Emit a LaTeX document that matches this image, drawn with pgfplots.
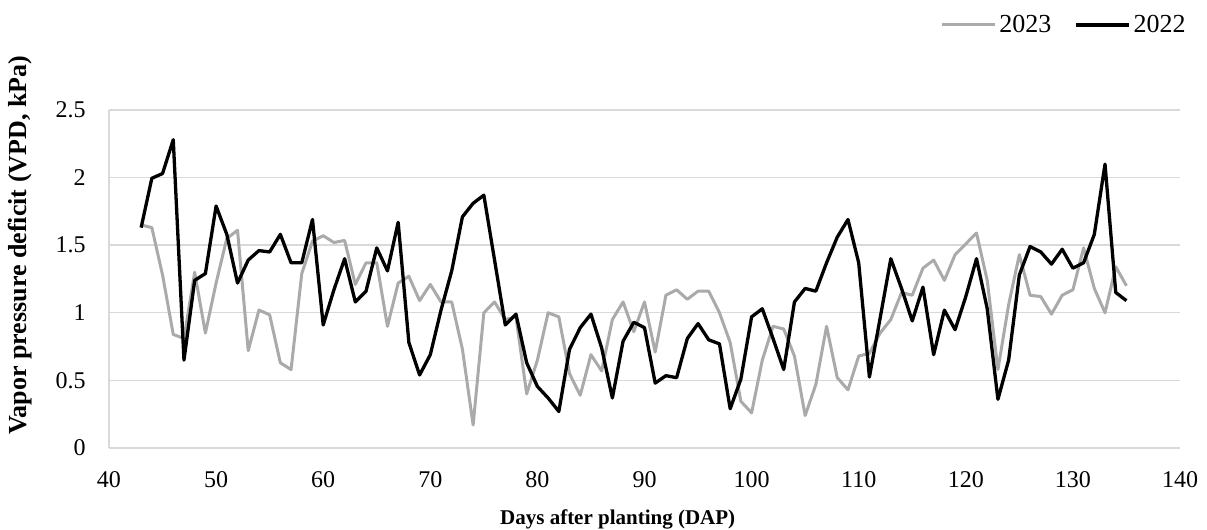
\documentclass[border=0pt]{standalone}
\usepackage{fontspec}
\setmainfont{Liberation Serif}
\usepackage{pgfplots}
\pgfplotsset{compat=1.18}
\definecolor{gridc}{RGB}{217,217,217}
\definecolor{s23}{RGB}{170,170,170}
\begin{document}
\begin{tikzpicture}
\useasboundingbox (-54.5pt,-41pt) rectangle (549pt,224pt);
\begin{axis}[
  scale only axis,
  width=535.5pt, height=169pt,
  xmin=40, xmax=140, ymin=0, ymax=2.5,
  xtick={40,50,...,140},
  ytick={0,0.5,1,1.5,2,2.5},
  axis lines=left,
  axis line style={-, draw=gridc, line width=0.7pt},
  major tick length=0pt,
  ymajorgrids,
  major grid style={draw=gridc, line width=0.7pt},
  /pgf/number format/assume math mode=true,
  tick label style={font=\fontsize{12}{14}\selectfont},
  xticklabel style={inner sep=0pt, anchor=north, yshift=-11.5pt},
  yticklabel style={inner sep=0pt, anchor=east, xshift=-11.5pt},
  xlabel={Days after planting (DAP)},
  ylabel={Vapor pressure deficit (VPD, kPa)},
  xlabel style={at={(axis description cs:0.475,-0.226)}, anchor=base, font=\bfseries\fontsize{10.5}{12}\selectfont},
  ylabel style={at={(axis description cs:-0.083,0.6)}, anchor=center, font=\bfseries\fontsize{13}{15}\selectfont},
  legend columns=2,
  legend image code/.code={\draw[#1] (0pt,0pt) -- (26.5pt,0pt);},
  legend style={at={(axis description cs:1.0084,1.2515)}, anchor=east, draw=none, fill=none,
    inner sep=0pt, font=\fontsize{13}{15}\selectfont,
    nodes={inner sep=1.5pt},
    /tikz/every even column/.append style={column sep=10pt}},
  line join=round,
]
\addplot[s23, line width=1.5pt] coordinates {
(43,1.65) (44,1.63) (45,1.28) (46,0.84) (47,0.81) (48,1.30) (49,0.85) (50,1.22)
(51,1.55) (52,1.61) (53,0.72) (54,1.02) (55,0.985) (56,0.63) (57,0.58) (58,1.29)
(59,1.53) (60,1.57) (61,1.52) (62,1.535) (63,1.21) (64,1.37) (65,1.37) (66,0.90)
(67,1.22) (68,1.27) (69,1.09) (70,1.21) (71,1.08) (72,1.08) (73,0.73) (74,0.17)
(75,1.00) (76,1.08) (77,0.95) (78,0.97) (79,0.40) (80,0.65) (81,1.00) (82,0.97)
(83,0.55) (84,0.39) (85,0.69) (86,0.57) (87,0.95) (88,1.08) (89,0.86) (90,1.08)
(91,0.71) (92,1.13) (93,1.17) (94,1.10) (95,1.16) (96,1.16) (97,1.00) (98,0.78)
(99,0.345) (100,0.26) (101,0.65) (102,0.90) (103,0.88) (104,0.68) (105,0.24) (106,0.47)
(107,0.90) (108,0.52) (109,0.43) (110,0.68) (111,0.70) (112,0.85) (113,0.95) (114,1.15)
(115,1.13) (116,1.33) (117,1.39) (118,1.24) (119,1.43) (120,1.51) (121,1.59) (122,1.24)
(123,0.58) (124,1.06) (125,1.43) (126,1.13) (127,1.12) (128,0.99) (129,1.13) (130,1.17)
(131,1.48) (132,1.18) (133,1.00) (134,1.34) (135,1.20)
};
\addlegendentry{2023}
\addplot[black, line width=1.65pt] coordinates {
(43,1.63) (44,1.995) (45,2.03) (46,2.28) (47,0.65) (48,1.24) (49,1.29) (50,1.79)
(51,1.58) (52,1.22) (53,1.39) (54,1.46) (55,1.45) (56,1.58) (57,1.37) (58,1.37)
(59,1.69) (60,0.91) (61,1.17) (62,1.40) (63,1.08) (64,1.16) (65,1.48) (66,1.31)
(67,1.67) (68,0.78) (69,0.54) (70,0.69) (71,1.02) (72,1.31) (73,1.71) (74,1.81)
(75,1.87) (76,1.39) (77,0.91) (78,0.99) (79,0.63) (80,0.455) (81,0.37) (82,0.27)
(83,0.73) (84,0.89) (85,0.99) (86,0.74) (87,0.37) (88,0.79) (89,0.93) (90,0.89)
(91,0.48) (92,0.535) (93,0.52) (94,0.81) (95,0.92) (96,0.80) (97,0.77) (98,0.29)
(99,0.51) (100,0.97) (101,1.03) (102,0.81) (103,0.58) (104,1.08) (105,1.18) (106,1.16)
(107,1.37) (108,1.56) (109,1.69) (110,1.37) (111,0.525) (112,0.96) (113,1.40) (114,1.18)
(115,0.94) (116,1.19) (117,0.69) (118,1.02) (119,0.875) (120,1.12) (121,1.40) (122,1.03)
(123,0.36) (124,0.65) (125,1.28) (126,1.49) (127,1.45) (128,1.36) (129,1.47) (130,1.33)
(131,1.37) (132,1.58) (133,2.10) (134,1.15) (135,1.09)
};
\addlegendentry{2022}
\end{axis}
\end{tikzpicture}
\end{document}
